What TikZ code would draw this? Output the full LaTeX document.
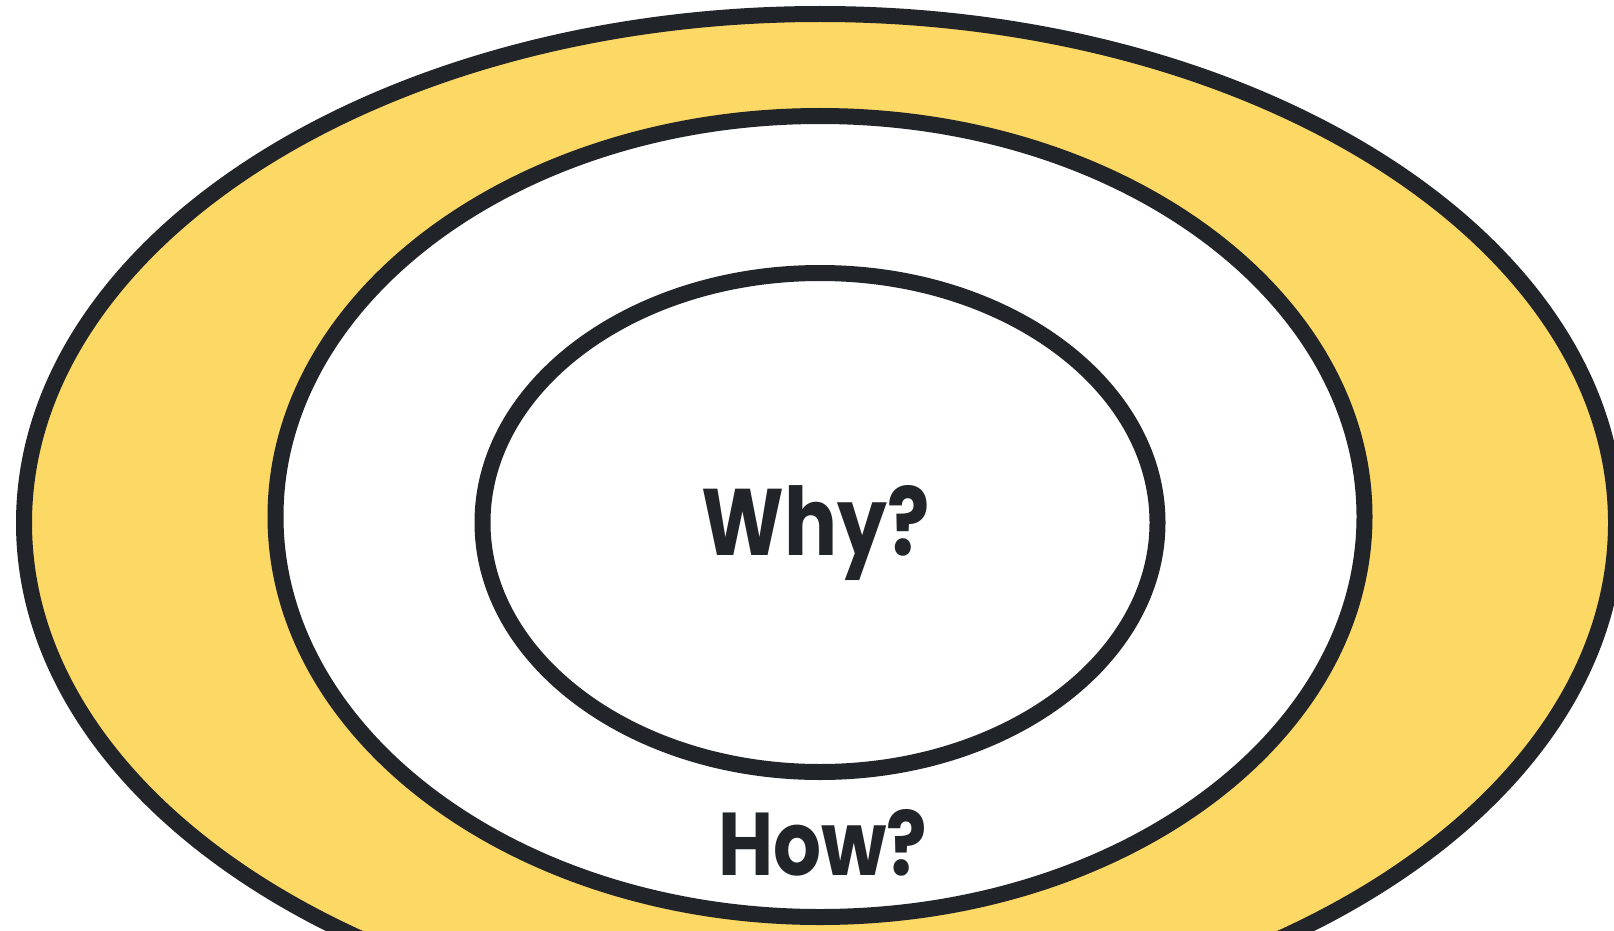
\documentclass[tikz,border=0pt]{standalone}
\usepackage{fontspec}
\setmainfont{Poppins}
\usepackage{graphicx}
\definecolor{ringyellow}{HTML}{FCD865}
\definecolor{ink}{HTML}{212428}
\begin{document}
\begin{tikzpicture}[x=1pt,y=-1pt,
  ring/.style={draw=ink,line width=16pt},
  label/.style={text=ink,font=\bfseries,anchor=base,inner sep=0pt}]
\useasboundingbox (0,0) rectangle (1614,931);
\clip (0,0) rectangle (1614,931);
\fill[white] (0,0) rectangle (1614,931);
\draw[ring,fill=ringyellow] (820,523) ellipse [x radius=796,y radius=509];
\draw[ring,fill=white] (820,516.5) ellipse [x radius=544.5,y radius=400.5];
\draw[ring,fill=white] (820,522.5) ellipse [x radius=337.5,y radius=249.5];
\node[label] (why) at (816,555) {\resizebox{228pt}{70pt}{Why?}};
\node[label] (how) at (823,875) {\resizebox{209pt}{66pt}{How?}};
\end{tikzpicture}
\end{document}
